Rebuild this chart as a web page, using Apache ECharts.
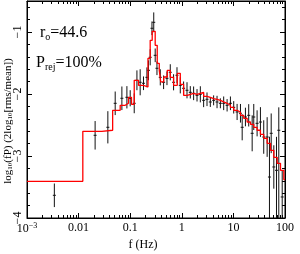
<!DOCTYPE html>
<html><head><meta charset="utf-8">
<script src="https://cdn.jsdelivr.net/npm/echarts@6/dist/echarts.min.js"></script>
<style>html,body{margin:0;padding:0;background:#fff}#c{width:300px;height:254px}</style>
</head><body><div id="c"></div>
<script>
// ---- data (frequency in Hz, log10 power values) ----
const dataFreq = [0.00339, 0.0209, 0.0369, 0.0512, 0.0690, 0.0863, 0.100, 0.1197, 0.135, 0.156, 0.181, 0.211, 0.226, 0.244, 0.264, 0.286, 0.305, 0.330, 0.383, 0.444, 0.516, 0.598, 0.693, 0.807, 0.935, 1.084, 1.262, 1.462, 1.694, 1.972, 2.286, 2.65, 3.08, 3.57, 4.14, 4.82, 5.59, 6.48, 7.55, 8.75, 10.14, 11.8, 13.7, 14.8, 17.1, 19.8, 23.1, 24.8, 28.8, 33.4, 38.7, 45.1, 50.0, 54.0, 60.7, 68.4, 75.8, 88.3];
const dataVal = [-3.634, -2.666, -2.537, -2.150, -2.069, -2.053, -2.069, -2.150, -1.779, -1.811, -1.827, -1.731, -1.618, -1.408, -0.940, -0.844, -1.376, -1.585, -1.731, -1.811, -1.747, -1.650, -1.811, -1.698, -1.860, -1.908, -1.940, -1.973, -1.989, -2.021, -2.005, -2.102, -2.085, -2.129, -2.102, -2.129, -2.150, -2.150, -2.182, -2.150, -2.215, -2.290, -2.311, -2.537, -2.371, -2.344, -2.634, -2.371, -2.473, -2.452, -2.694, -2.694, -3.339, -2.634, -3.177, -3.231, -2.585, -3.661];
const errHi = [0.19, 0.23, 0.26, 0.19, 0.19, 0.18, 0.13, 0.16, 0.16, 0.21, 0.11, 0.16, 0.16, 0.13, 0.11, 0.16, 0.11, 0.11, 0.13, 0.11, 0.11, 0.13, 0.13, 0.13, 0.13, 0.11, 0.13, 0.10, 0.11, 0.10, 0.13, 0.11, 0.11, 0.08, 0.08, 0.10, 0.08, 0.11, 0.10, 0.11, 0.10, 0.13, 0.15, 0.21, 0.15, 0.18, 0.29, 0.21, 0.21, 0.24, 0.27, 0.32, 0.65, 0.32, 0.35, 0.54, 0.37, 0.43];
const errLo = [0.19, 0.23, 0.26, 0.19, 0.19, 0.18, 0.13, 0.16, 0.16, 0.21, 0.11, 0.16, 0.16, 0.13, 0.11, 0.16, 0.11, 0.11, 0.13, 0.11, 0.11, 0.13, 0.13, 0.13, 0.13, 0.11, 0.13, 0.10, 0.11, 0.10, 0.13, 0.11, 0.11, 0.08, 0.08, 0.10, 0.08, 0.11, 0.10, 0.11, 0.10, 0.13, 0.15, 0.21, 0.15, 0.18, 0.29, 0.21, 0.21, 0.24, 0.27, 0.32, 2.0, 0.32, 0.35, 2.0, 2.0, 2.0];
// red step curve: start frequency of each step and its value (last point closes the final step)
const redFreq = [0.001, 0.01207, 0.0282, 0.0457, 0.0640, 0.080, 0.0927, 0.106, 0.1197, 0.145, 0.181, 0.221, 0.244, 0.267, 0.305, 0.334, 0.366, 0.391, 0.447, 0.523, 0.598, 0.693, 0.818, 0.935, 1.084, 1.279, 1.694, 1.972, 2.286, 2.65, 3.08, 3.57, 4.14, 4.82, 5.59, 6.48, 7.55, 8.75, 10.14, 11.8, 13.7, 15.85, 18.45, 21.4, 24.8, 28.8, 33.4, 38.7, 45.1, 52.3, 60.7, 70.6, 81.8, 94.8, 100];
const redVal = [-3.408, -2.602, -2.585, -2.263, -2.182, -2.150, -2.053, -2.166, -1.779, -1.860, -1.887, -1.424, -1.134, -0.989, -1.215, -1.505, -1.618, -1.806, -1.726, -1.618, -1.731, -1.860, -1.666, -1.844, -2.021, -1.989, -2.005, -1.989, -1.973, -2.037, -2.053, -2.074, -2.085, -2.102, -2.126, -2.150, -2.182, -2.215, -2.263, -2.295, -2.344, -2.392, -2.452, -2.489, -2.537, -2.585, -2.650, -2.715, -2.795, -2.908, -3.021, -3.118, -3.231, -3.38, -3.38];
// ticks
const xMajorTicks = [0.001, 0.01, 0.1, 1, 10, 100];
const yMajorTicks = [-4, -3, -2, -1];
const xMinorTicks = [];
for (let d = -3; d < 2; d++) for (let k = 2; k < 10; k++) xMinorTicks.push(+(k * Math.pow(10, d)).toPrecision(3));
const yMinorTicks = [];
for (let i = 0; i <= 17; i++) { const v = -4 + 0.2 * i; if (Math.abs(v - Math.round(v)) > 1e-6) yMinorTicks.push(+v.toFixed(1)); }

const FONT = 'Liberation Serif';
const XMIN = 0.001, XMAX = 100, YMIN = -4, YMAX = -0.5;

function xAx(pos, ticks, len, labels, line) {
  return {
    type: 'log', logBase: 10, min: XMIN, max: XMAX, position: pos, gridIndex: 0,
    axisLine: { show: line, lineStyle: { color: '#000', width: 1 } },
    axisTick: { show: true, inside: true, length: len, customValues: ticks, lineStyle: { color: '#000', width: 1 } },
    axisLabel: labels ? {
      show: true, customValues: xMajorTicks, margin: 4, color: '#000', fontFamily: FONT, fontSize: 12,
      formatter: function (v) {
        const e = Math.round(Math.log10(v));
        if (e <= -3) return '{a|10}{p|\u2212' + (-e) + '}';
        return '{a|' + (e < 0 ? v.toFixed(-e) : String(Math.round(v))) + '}';
      },
      rich: { a: { fontFamily: FONT, fontSize: 12, color: '#000' }, p: { fontFamily: FONT, fontSize: 8, color: '#000', verticalAlign: 'top', padding: [0, 0, 6, 0] } }
    } : { show: false },
    splitLine: { show: false }
  };
}
function yAx(pos, ticks, len, labels, line) {
  return {
    type: 'value', min: YMIN, max: YMAX, position: pos, gridIndex: 0,
    axisLine: { show: line, lineStyle: { color: '#000', width: 1 } },
    axisTick: { show: true, inside: true, length: len, customValues: ticks, lineStyle: { color: '#000', width: 1 } },
    axisLabel: labels ? {
      show: true, customValues: yMajorTicks, rotate: 90, margin: 3, color: '#000', fontFamily: FONT, fontSize: 12,
      formatter: function (v) { return String(v).replace('-', '\u2212'); }
    } : { show: false },
    splitLine: { show: false }
  };
}

const chart = echarts.init(document.getElementById('c'), null, { renderer: 'canvas' });
chart.setOption({
  animation: false,
  backgroundColor: '#fff',
  grid: { left: 27, right: 15, top: 1, bottom: 36, show: true, borderColor: '#000', borderWidth: 1 },
  xAxis: [
    xAx('bottom', xMajorTicks, 5, true, true),
    xAx('bottom', xMinorTicks, 3, false, false),
    xAx('top', xMajorTicks, 5, false, true),
    xAx('top', xMinorTicks, 3, false, false)
  ],
  yAxis: [
    yAx('left', yMajorTicks, 5, true, true),
    yAx('left', yMinorTicks, 3, false, false),
    yAx('right', yMajorTicks, 5, false, true),
    yAx('right', yMinorTicks, 3, false, false)
  ],
  series: [
    {
      type: 'custom', xAxisIndex: 0, yAxisIndex: 0,
      data: dataFreq.map((f, i) => [f, dataVal[i], dataVal[i] - errLo[i], dataVal[i] + errHi[i]]),
      encode: { x: 0, y: [1, 2, 3] },
      renderItem: function (params, api) {
        const cs = params.coordSys;
        const c = api.coord([api.value(0), api.value(1)]);
        const lo = api.coord([api.value(0), api.value(2)]);
        const hi = api.coord([api.value(0), api.value(3)]);
        const yb = Math.min(lo[1], cs.y + cs.height);
        const yt = Math.max(hi[1], cs.y);
        const st = { stroke: '#111', lineWidth: 1 };
        return {
          type: 'group', children: [
            { type: 'line', shape: { x1: c[0], y1: yt, x2: c[0], y2: yb }, style: st },
            { type: 'line', shape: { x1: c[0] - 1.5, y1: c[1], x2: c[0] + 1.5, y2: c[1] }, style: st }
          ]
        };
      }
    },
    {
      type: 'line', xAxisIndex: 0, yAxisIndex: 0, step: 'end', symbol: 'none',
      data: redFreq.map((f, i) => [f, redVal[i]]),
      lineStyle: { color: '#ff0000', width: 1.3 }
    }
  ],
  graphic: [
    { type: 'text', x: 40, y: 33, style: { text: '{a|r}{s|o}{a|=44.6}', verticalAlign: 'middle', align: 'left',
        rich: { a: { fontFamily: FONT, fontSize: 16, fill: '#000' }, s: { fontFamily: FONT, fontSize: 10, fill: '#000', verticalAlign: 'bottom', padding: [8, 0, 0, 0] } } } },
    { type: 'text', x: 36, y: 63, style: { text: '{a|P}{s|rej}{a|=100%}', verticalAlign: 'middle', align: 'left',
        rich: { a: { fontFamily: FONT, fontSize: 16, fill: '#000' }, s: { fontFamily: FONT, fontSize: 10, fill: '#000', verticalAlign: 'bottom', padding: [8, 0, 0, 0] } } } },
    { type: 'text', x: 143, y: 245, style: { text: 'f (Hz)', fontFamily: FONT, fontSize: 12, fill: '#000', align: 'center', verticalAlign: 'middle' } },
    { type: 'text', x: 8, y: 121, rotation: Math.PI / 2, style: { text: '{a|log}{s|10}{a|(fP) (2log}{s|10}{a|[rms/mean])}', align: 'center', verticalAlign: 'middle',
        rich: { a: { fontFamily: FONT, fontSize: 11, fill: '#000' }, s: { fontFamily: FONT, fontSize: 7, fill: '#000', verticalAlign: 'bottom', padding: [5, 0, 0, 0] } } } }
  ]
});
</script></body></html>
